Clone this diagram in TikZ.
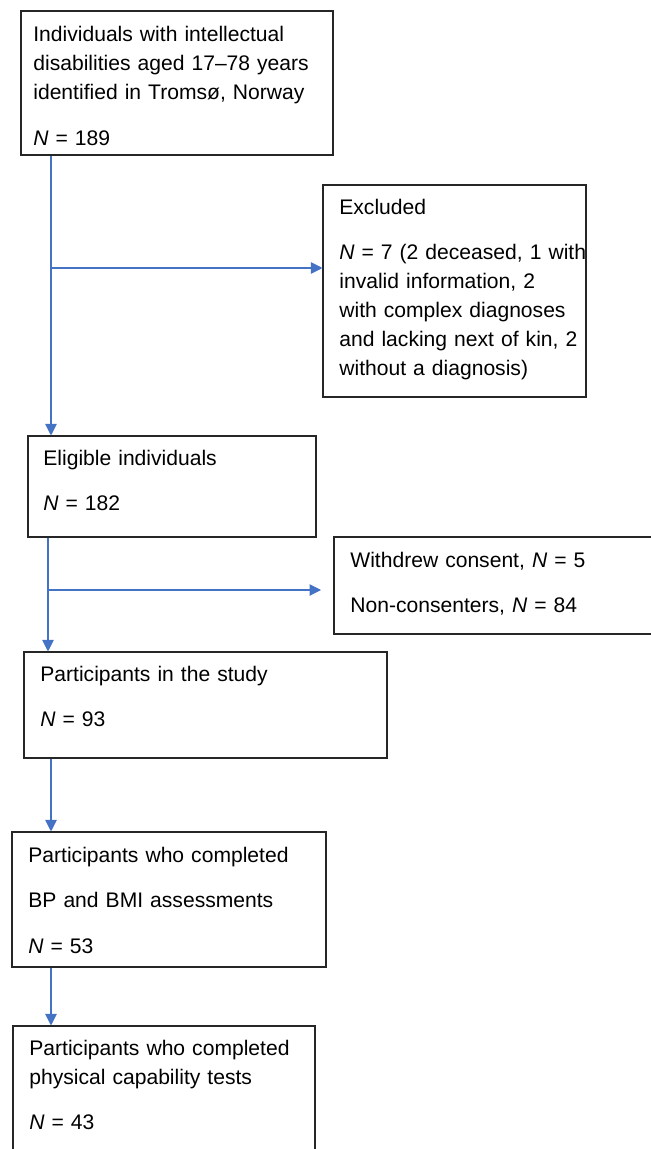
\documentclass[tikz,border=0pt]{standalone}
\usepackage{fontspec}
\setmainfont{Liberation Sans}
\usetikzlibrary{arrows.meta,fit}
\definecolor{flowblue}{HTML}{4472C4}
\begin{document}
\begin{tikzpicture}[x=0.2mm,y=-0.2mm,
  box/.style={draw=black!85,line width=0.6pt,inner sep=0pt},
  txt/.style={anchor=base west,inner sep=0pt,text width=60mm,align=left,font={\fontsize{12}{16.5}\selectfont\spaceskip=0.23em\relax}},
  arr/.style={draw=flowblue,line width=0.6pt,-{Triangle[length=2.3mm,width=2.3mm]}}]
\useasboundingbox (0,0) rectangle (650,1149);
\node[box,fit={(21,11) (333,155)}] (ident) {};
\node[txt] (ident-t) at (33,42) {Individuals with intellectual\\disabilities aged 17–78 years\\identified in Tromsø, Norway\\[9.4pt]\textit{N} = 189};
\node[box,fit={(323,185) (586,397)}] (excl) {};
\node[txt] (excl-t) at (339,214) {Excluded\\[9.4pt]\textit{N} = 7 (2 deceased, 1 with\\invalid information, 2\\with complex diagnoses\\and lacking next of kin, 2\\without a diagnosis)};
\node[box,fit={(28,436) (316,537)}] (elig) {};
\node[txt] (elig-t) at (43,465) {Eligible individuals\\[9.4pt]\textit{N} = 182};
\node[box,fit={(334,537) (670,634)}] (cons) {};
\node[txt] (cons-t) at (350,567) {Withdrew consent, \textit{N} = 5\\[9.4pt]Non-consenters, \textit{N} = 84};
\node[box,fit={(24,652) (387,758)}] (study) {};
\node[txt] (study-t) at (40,681) {Participants in the study\\[9.4pt]\textit{N} = 93};
\node[box,fit={(12,832) (326,967)}] (bp) {};
\node[txt] (bp-t) at (28,862) {Participants who completed\\[9.4pt]BP and BMI assessments\\[9.4pt]\textit{N} = 53};
\node[box,fit={(13,1026) (315,1170)}] (phys) {};
\node[txt] (phys-t) at (29,1055) {Participants who completed\\physical capability tests\\[9.4pt]\textit{N} = 43};
\coordinate (j1) at (51,268);
\coordinate (j2) at (48,590);
\coordinate (consin) at (321,590);
\draw[arr] (j1 |- ident.south) -- (j1 |- elig.north);
\draw[arr] (j1) -- (j1 -| excl.west);
\draw[arr] (j2 |- elig.south) -- (j2 |- study.north);
\draw[arr] (j2) -- (consin);
\draw[arr] (j1 |- study.south) -- (j1 |- bp.north);
\draw[arr] (j1 |- bp.south) -- (j1 |- phys.north);
\end{tikzpicture}
\end{document}
